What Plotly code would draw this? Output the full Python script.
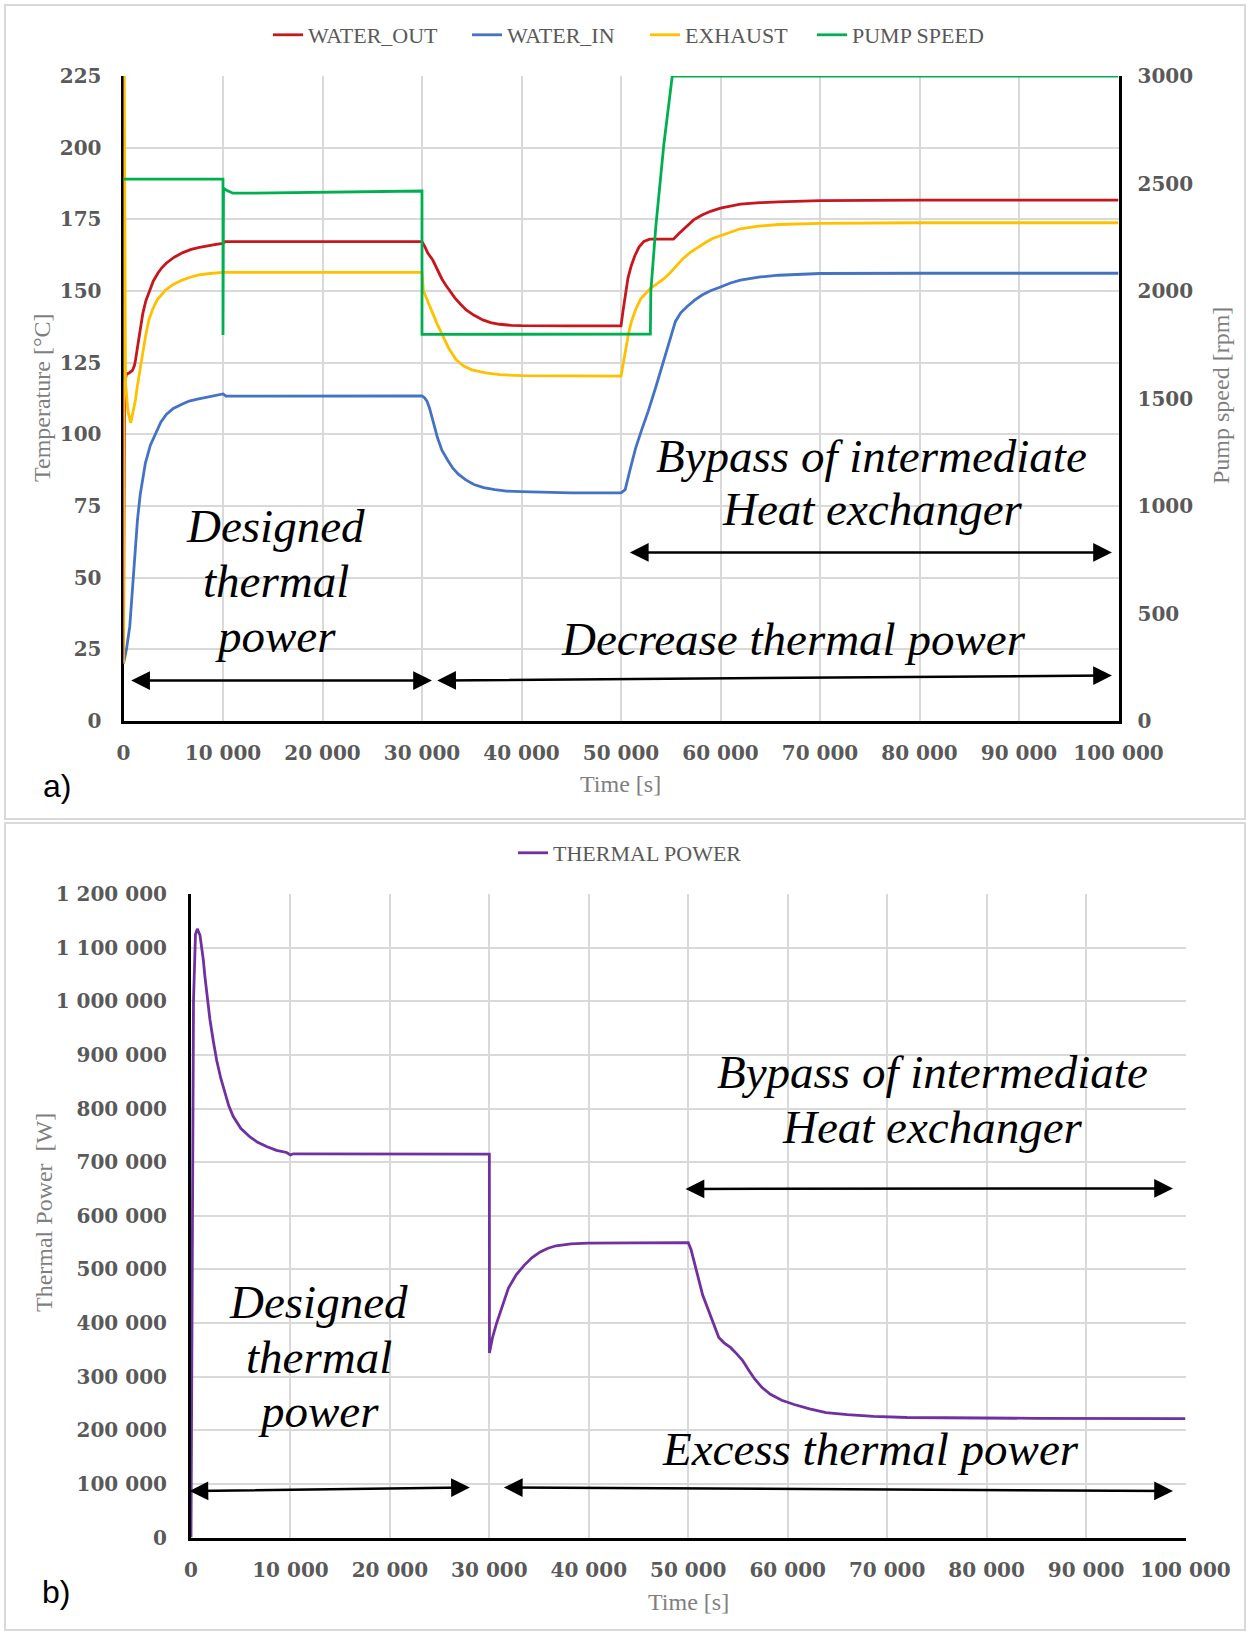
import plotly.graph_objects as go

W, H = 1248, 1633

# ---------------- Panel a) data ----------------
t_water_out = [0, 100, 300, 600, 900, 1100, 1206, 1400, 1608, 1800, 1943, 2250, 2613, 3000, 3451, 3850,
               4288, 5100, 5963, 6800, 7638, 8500, 9300, 10000, 10200, 20000, 30000, 30300, 30570,
               31080, 31500, 32000, 32400, 32760, 33300, 33900, 34440, 35200, 36110, 36900, 37790,
               39000, 40000, 45000, 50000, 50200, 50460, 50700, 51040, 51400, 51810, 52300, 52880,
               55270, 55800, 56620, 57300, 58150, 59000, 60000, 61000, 62000, 64000, 65850, 70000,
               80000, 100000]
water_out = [20, 118, 121, 121.5, 122.3, 124, 125.9, 130.5, 135.2, 139.4, 142.2, 146.6, 150.3, 153.5,
             156.2, 158.1, 159.7, 161.8, 163.4, 164.5, 165.2, 165.9, 166.3, 166.6, 167.2, 167.2, 167.2,
             165.4, 163.3, 160.8, 157.6, 154.2, 152.0, 150.3, 147.6, 145.3, 143.4, 141.6, 139.9, 139.0,
             138.4, 138.0, 137.9, 137.8, 137.8, 143.0, 149.7, 154.5, 158.9, 162.4, 165.3, 167.3, 168.1,
             168.1, 170.0, 172.8, 174.8, 176.5, 177.8, 178.9, 179.7, 180.3, 180.8, 181.1, 181.5,
             181.7, 181.7]

t_water_in = [0, 300, 630, 900, 1150, 1400, 1680, 1950, 2200, 2700, 3250, 3750, 4300, 5000, 5870, 6600,
              7440, 8500, 9300, 10000, 10300, 20000, 30000, 30250, 30500, 30750, 31030, 31300, 31550,
              32000, 32600, 33100, 33650, 34400, 35220, 36200, 37320, 38500, 39940, 45000, 50000,
              50420, 50900, 51470, 52100, 52730, 53500, 54310, 54900, 55460, 56000, 56620, 57400,
              58150, 59000, 60000, 61000, 62000, 64000, 65850, 70000, 80000, 100000]
water_in = [20, 25, 33, 45, 59, 70, 79, 85.5, 90, 96.2, 100.7, 104.2, 106.9, 109.0, 110.5, 111.6,
            112.3, 113.1, 113.6, 114.1, 113.3, 113.4, 113.4, 112.8, 111.6, 109.2, 106.0, 102.2, 98.9,
            94.5, 90.9, 88.2, 86.1, 84.1, 82.5, 81.4, 80.7, 80.2, 80.0, 79.6, 79.6,
            80.7, 87.5, 95.2, 101.8, 108.0, 116.5, 125.5, 132.8, 139.3, 142.4, 144.5, 146.8,
            148.6, 150.1, 151.4, 152.8, 153.8, 154.9, 155.5, 156.1, 156.2, 156.2]

t_exhaust = [0, 50, 200, 450, 730, 1000, 1200, 1400, 1600, 1800, 2000, 2211, 2546, 2950, 3384, 3800,
             4221, 5000, 5896, 6700, 7572, 8700, 9950, 20000, 30000, 30150, 30600, 31080, 31600,
             32090, 32700, 33430, 34200, 35000, 36400, 37800, 40000, 50000, 50200, 50460, 50750,
             51040, 51500, 52000, 52960, 53600, 54310, 54900, 55460, 56200, 57000, 57800, 58540,
             59200, 60000, 61000, 62000, 63800, 65850, 70000, 80000, 100000]
exhaust = [20, 250, 118, 108, 104, 108, 112, 117, 121.6, 125.9, 130.0, 134.1, 139.9, 143.8, 146.9,
           148.8, 150.3, 152.3, 153.8, 154.8, 155.6, 156.1, 156.5, 156.5, 156.5, 150.0, 146.0, 142.2,
           137.9, 134.1, 129.9, 126.0, 123.8, 122.5, 121.4, 120.8, 120.5, 120.3, 124.5, 130.1, 135.0,
           139.3, 143.8, 147.4, 150.9, 152.5, 154.3, 156.2, 158.4, 161.2, 163.6, 165.5, 167.0,
           168.3, 169.3, 170.7, 171.7, 172.6, 173.2, 173.6, 173.8, 173.8]

t_pump = [0, 9999, 10000, 10050, 10300, 11000, 13000, 20000, 29999, 30000, 52950, 53000, 53500,
          54300, 55150, 100000]
pump_speed = [2520, 2520, 1795, 2478, 2470, 2455, 2455, 2460, 2465, 1798, 1800, 2000, 2300,
              2680, 3000, 3000]

# ---------------- Panel b) data ----------------
t_power = [0, 250, 450, 635, 905, 1100, 1240, 1400, 1575, 1750, 1910, 2250, 2580, 3000, 3420, 3800,
           4250, 5000, 5930, 6700, 7600, 8600, 9610, 10000, 10300, 20000, 30000, 30010, 30320, 30700,
           31120, 31500, 31920, 32700, 33520, 34300, 35110, 35900, 36710, 38200, 39900, 44700, 50000,
           50280, 50650, 51080, 51450, 51880, 52450, 53070, 53600, 54270, 54900, 55470, 56050, 56660,
           57400, 58260, 59400, 60650, 62200, 63850, 66000, 68640, 72000, 76620, 85000, 100000]
thermal_power = [0, 1000000, 1125000, 1135000, 1123000, 1100000, 1077000, 1046000, 1015000, 988000,
                 965000, 925000, 890000, 856000, 828000, 805000, 785000, 763000, 747000, 737000,
                 729000, 722000, 718000, 713300, 715500, 715000, 715000, 344000, 373000, 398000,
                 421500, 444000, 465000, 490000, 508000, 522000, 532500, 539500, 544000, 547500,
                 549000, 549500, 550000, 537000, 508000, 479000, 452000, 431000, 400000, 373000,
                 363000, 354000, 342000, 330000, 313000, 296000, 280000, 267000, 256000, 248000,
                 240000, 233000, 229000, 225700, 223800, 222800, 222200, 221800]

# ---------------- ticks ----------------
time_ticks = [0, 10000, 20000, 30000, 40000, 50000, 60000, 70000, 80000, 90000, 100000]
temp_ticks = [0, 25, 50, 75, 100, 125, 150, 175, 200, 225]
rpm_ticks = [0, 500, 1000, 1500, 2000, 2500, 3000]
power_ticks = [0, 100000, 200000, 300000, 400000, 500000, 600000, 700000, 800000, 900000,
               1000000, 1100000, 1200000]


def spaced(v):
    return f"{v:,}".replace(",", " ")


def px(x):
    return x / W


def py(y):
    return 1 - y / H


C_OUT = "#C8161D"
C_IN = "#4472C4"
C_EXH = "#FFC000"
C_PUMP = "#00B050"
C_POW = "#7030A0"
GRID = "#D9D9D9"
LW = 2.8
TICKFONT = dict(family="DejaVu Serif", size=20, color="#595959", weight="bold")
TITLEFONT = dict(family="Liberation Serif", size=24, color="#7F7F7F")
LEGFONT = dict(family="Liberation Serif", size=22, color="#595959")
ITAL = dict(family="Liberation Serif", size=47, color="black", style="italic")

fig = go.Figure()
fig.add_trace(go.Scatter(x=t_water_out, y=water_out, name="WATER_OUT", mode="lines",
                         line=dict(color=C_OUT, width=LW), xaxis="x", yaxis="y",
                         legend="legend", legendwidth=154))
fig.add_trace(go.Scatter(x=t_water_in, y=water_in, name="WATER_IN", mode="lines",
                         line=dict(color=C_IN, width=LW), xaxis="x", yaxis="y",
                         legend="legend", legendwidth=133))
fig.add_trace(go.Scatter(x=t_exhaust, y=exhaust, name="EXHAUST", mode="lines",
                         line=dict(color=C_EXH, width=LW), xaxis="x", yaxis="y",
                         legend="legend", legendwidth=122))
fig.add_trace(go.Scatter(x=t_pump, y=pump_speed, name="PUMP SPEED", mode="lines",
                         line=dict(color=C_PUMP, width=LW), xaxis="x", yaxis="y2",
                         legend="legend"))
fig.add_trace(go.Scatter(x=t_power, y=thermal_power, name="THERMAL POWER", mode="lines",
                         line=dict(color=C_POW, width=LW), xaxis="x2", yaxis="y3",
                         legend="legend2"))

top_x = [px(123.5), px(1118.5)]
top_y = [py(721), py(76)]
bot_x = [px(191), px(1185.5)]
bot_y = [py(1537.5), py(894)]

common_x = dict(range=[0, 100000], tickvals=time_ticks, ticktext=[spaced(v) for v in time_ticks],
                showgrid=True, gridcolor=GRID, gridwidth=1.5, showline=True, linecolor="black",
                linewidth=3, zeroline=False, ticks="", tickfont=TICKFONT, ticklabelstandoff=12,
                automargin=False, fixedrange=True)

fig.update_layout(
    template="none",
    width=W, height=H,
    margin=dict(l=0, r=0, t=0, b=0),
    paper_bgcolor="white", plot_bgcolor="white",
    showlegend=True,
    xaxis=dict(domain=top_x, anchor="y", **common_x),
    yaxis=dict(domain=top_y, anchor="x", range=[0, 225], tickvals=temp_ticks,
               showgrid=True, gridcolor=GRID, gridwidth=1.5, showline=True, linecolor="black",
               linewidth=3, zeroline=False, ticks="", tickfont=TICKFONT, ticklabelstandoff=15,
               layer="below traces", automargin=False),
    yaxis2=dict(anchor="x", overlaying="y", side="right", range=[0, 3000], tickvals=rpm_ticks,
                showgrid=False, showline=True, linecolor="black", linewidth=3, zeroline=False,
                ticks="", tickfont=TICKFONT, ticklabelstandoff=12, automargin=False),
    xaxis2=dict(domain=bot_x, anchor="y3", **common_x),
    yaxis3=dict(domain=bot_y, anchor="x2", range=[0, 1200000], tickvals=power_ticks,
                ticktext=[spaced(v) for v in power_ticks],
                showgrid=True, gridcolor=GRID, gridwidth=1.5, showline=True, linecolor="black",
                linewidth=3, zeroline=False, ticks="", tickfont=TICKFONT, ticklabelstandoff=17,
                layer="below traces", automargin=False),
    legend=dict(orientation="h", x=px(268), xanchor="left", y=py(35), yanchor="middle",
                font=LEGFONT, bgcolor="rgba(0,0,0,0)", borderwidth=0),
    legend2=dict(orientation="h", x=px(513), xanchor="left", y=py(853), yanchor="middle",
                 font=LEGFONT, bgcolor="rgba(0,0,0,0)", borderwidth=0),
)

# panel frames
for (y0, y1) in [(5, 819), (823, 1630)]:
    fig.add_shape(type="rect", xref="paper", yref="paper", x0=px(5), x1=px(1245),
                  y0=py(y1), y1=py(y0), line=dict(color="#D9D9D9", width=2), layer="below")

ann = []
# axis titles / panel labels
ann.append(dict(text="Temperature [°C]", x=px(42), y=py(398), textangle=-90, font=TITLEFONT))
ann.append(dict(text="Pump speed [rpm]", x=px(1221), y=py(396), textangle=-90, font=TITLEFONT))
ann.append(dict(text="Time [s]", x=px(620), y=py(784), font=TITLEFONT))
ann.append(dict(text="Thermal Power \u00a0[W]", x=px(44), y=py(1213), textangle=-90, font=TITLEFONT))
ann.append(dict(text="Time [s]", x=px(688), y=py(1602), font=TITLEFONT))
ann.append(dict(text="a)", x=px(57), y=py(786), font=dict(family="Liberation Sans", size=32, color="black")))
ann.append(dict(text="b)", x=px(56), y=py(1592), font=dict(family="Liberation Sans", size=32, color="black")))
for a in ann:
    a.update(xref="paper", yref="paper", showarrow=False, xanchor="center", yanchor="middle")

# italic texts, panel a (data coords)
texts_a = [("Designed", 15280, 68.0), ("thermal", 15280, 49.0), ("power", 15280, 29.8),
           ("Bypass of intermediate", 75130, 92.6), ("Heat exchanger", 75230, 74.1),
           ("Decrease thermal power", 67340, 28.6)]
for txt, xx, yy in texts_a:
    ann.append(dict(text=txt, x=xx, y=yy, xref="x", yref="y", showarrow=False, font=ITAL,
                    xanchor="center", yanchor="middle"))
texts_b = [("Designed", 12870, 439200), ("thermal", 12870, 335700), ("power", 12870, 235000),
           ("Bypass of intermediate", 74510, 868000), ("Heat exchanger", 74510, 765500),
           ("Excess thermal power", 68280, 165000)]
for txt, xx, yy in texts_b:
    ann.append(dict(text=txt, x=xx, y=yy, xref="x2", yref="y3", showarrow=False, font=ITAL,
                    xanchor="center", yanchor="middle"))

# double-headed arrows
arrows_a = [(620, 14.1, 31000, 14.1), (31380, 14.1, 99340, 15.9), (50740, 58.8, 99340, 58.8)]
arrows_b = [(-300, 86700, 28040, 93400), (31310, 93400, 98740, 86700), (49580, 650000, 98740, 651000)]
for refs, arr in [(("x", "y"), arrows_a), (("x2", "y3"), arrows_b)]:
    for x0, y0, x1, y1 in arr:
        ann.append(dict(text="", x=x1, y=y1, ax=x0, ay=y0, xref=refs[0], yref=refs[1],
                        axref=refs[0], ayref=refs[1], showarrow=True, arrowhead=2,
                        startarrowhead=2, arrowside="end+start", arrowsize=1.5,
                        startarrowsize=1.5, arrowwidth=2.5, arrowcolor="black"))

fig.update_layout(annotations=ann)
fig.write_html("out.html")
